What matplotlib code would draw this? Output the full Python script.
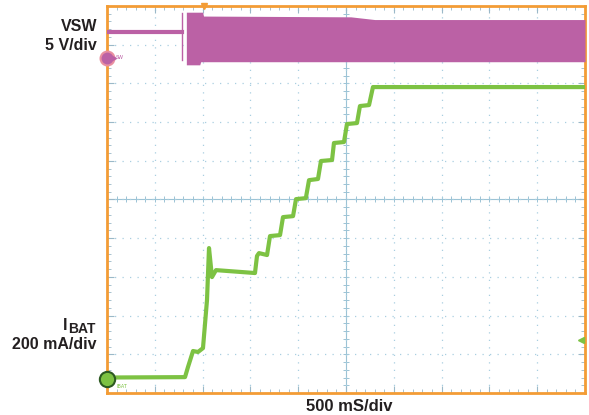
import numpy as np
import matplotlib.pyplot as plt
from matplotlib.ticker import MultipleLocator

## Scope settings
t_div = 0.5     # time base [s/div]
v_div = 5.      # VSW scale [V/div]
i_div = 200.    # IBAT scale [mA/div]
vsw_gnd = 8.66  # VSW ground marker [div from bottom]
ibat_gnd = 0.36 # IBAT ground marker [div from bottom]
trig_t = 1.015  # trigger position [s]
trig_lvl = 200. # trigger level on IBAT [mA]

## IBAT trace (time [s], current [mA])
ibat_t = [0.0, 0.816, 0.847, 0.90, 0.952, 1.004, 1.046, 1.067, 1.098, 1.14,
          1.548, 1.569, 1.59, 1.674, 1.705, 1.81, 1.841, 1.946, 1.977, 2.08,
          2.113, 2.207, 2.238, 2.354, 2.374, 2.479, 2.51, 2.615, 2.646, 2.741,
          2.782, 5.0]
ibat_ma = [8, 10, 62, 145, 140, 160, 408, 677, 527, 563,
           548, 636, 651, 641, 739, 744, 837, 842, 930, 935,
           1028, 1034, 1127, 1132, 1220, 1225, 1318, 1323, 1411, 1416,
           1509, 1509]

## VSW: quiet level before start-up, start spike, then switching band envelope [V]
pre_t = [0.0, 0.78]
pre_v = [3.3, 3.3]
spike_t = 0.785
spike_v = [-0.3, 5.8]
sw_t = [0.83, 0.97, 0.98, 1.00, 1.01, 2.55, 2.80, 5.00]
sw_hi = [5.9, 5.9, 5.9, 5.9, 5.4, 5.3, 4.95, 4.95]
sw_lo = [-0.9, -0.9, -0.5, -0.5, -0.5, -0.5, -0.5, -0.5]

purple = '#bb61a5'
green = '#7dc243'
orange = '#f39c35'
gridc = '#a9cfe0'
txtc = '#231f20'

def vdiv(v):
    return vsw_gnd + np.asarray(v) / v_div

def idiv(i):
    return ibat_gnd + np.asarray(i) / i_div

fig = plt.figure(figsize=(5.89, 4.15), dpi=100)
ax = fig.add_axes([107/589, 22/415, 478/589, 387/415])
ax.set_xlim(0, 10*t_div)
ax.set_ylim(0, 10)

# graticule
ax.xaxis.set_major_locator(MultipleLocator(t_div))
ax.yaxis.set_major_locator(MultipleLocator(1))
ax.xaxis.set_minor_locator(MultipleLocator(t_div/5))
ax.yaxis.set_minor_locator(MultipleLocator(0.2))
ax.grid(True, which='major', color=gridc, lw=0.9, linestyle=(0, (1, 5)))
ax.tick_params(which='both', direction='in', top=True, right=True,
               labelbottom=False, labelleft=False, color='#9ab8c8')
ax.tick_params(which='major', length=5, width=0.8)
ax.tick_params(which='minor', length=3, width=0.6)
ax.axvline(5*t_div, color='#9cc3d5', lw=0.8, zorder=1)
ax.axhline(5, color='#9cc3d5', lw=0.8, zorder=1)
mt = np.arange(0, 10*t_div + 1e-9, t_div/5)
my = np.arange(0, 10.001, 0.2)
ax.plot(mt, np.full(mt.size, 5.), ls='none', marker='|', ms=5, mew=0.7,
        color='#9cc3d5', zorder=1)
ax.plot(np.full(my.size, 5*t_div), my, ls='none', marker='_', ms=5, mew=0.7,
        color='#9cc3d5', zorder=1)
for s in ax.spines.values():
    s.set_color(orange)
    s.set_linewidth(2)

# VSW
ax.plot(pre_t, vdiv(pre_v), color=purple, lw=3, zorder=3)
ax.plot([spike_t, spike_t], vdiv(spike_v), color=purple, lw=1, zorder=3)
ax.fill_between(sw_t, vdiv(sw_lo), vdiv(sw_hi), color=purple, lw=0, zorder=3)

# IBAT
ax.plot(ibat_t, idiv(ibat_ma), color=green, lw=3, solid_joinstyle='round',
        zorder=4)

# ground / trigger markers
ax.plot(0, vsw_gnd, 'o', ms=10, color=purple, mec='#e98fa0', mew=1.5,
        clip_on=False, zorder=6)
ax.plot(0.06, vsw_gnd, '>', ms=5, color=purple, clip_on=False, zorder=6)
ax.text(0.09, vsw_gnd, 'SW', fontsize=3.5, color=purple, va='center')
ax.plot(0, ibat_gnd, 'o', ms=11, color=green, mec='#2d5a22', mew=1.5,
        clip_on=False, zorder=6)
ax.text(0.1, ibat_gnd - 0.2, 'IBAT', fontsize=3.5, color=green, va='center')
ax.plot(trig_t, 10, 'v', ms=5, color=orange, clip_on=False, zorder=6)
ax.plot(10*t_div - 0.04, idiv(trig_lvl), '<', ms=4, color=green, zorder=6)

# channel labels
bold = dict(family='Liberation Sans', weight='bold', color=txtc)
fig.text(97/589, 1 - 31/415, 'VSW', ha='right', va='baseline', fontsize=11.5, **bold)
fig.text(97/589, 1 - 50/415, '5 V/div', ha='right', va='baseline', fontsize=11.5, **bold)
fig.text(63/589, 1 - 330/415, 'I', ha='left', va='baseline', fontsize=11.5, **bold)
fig.text(68/589, 1 - 333/415, 'BAT', ha='left', va='baseline', fontsize=10, **bold)
fig.text(97/589, 1 - 349/415, '200 mA/div', ha='right', va='baseline', fontsize=11.5, **bold)
fig.text(349/589, 1 - 411/415, '500 mS/div', ha='center', va='baseline', fontsize=12, **bold)

fig.savefig('out.png', dpi=100)
